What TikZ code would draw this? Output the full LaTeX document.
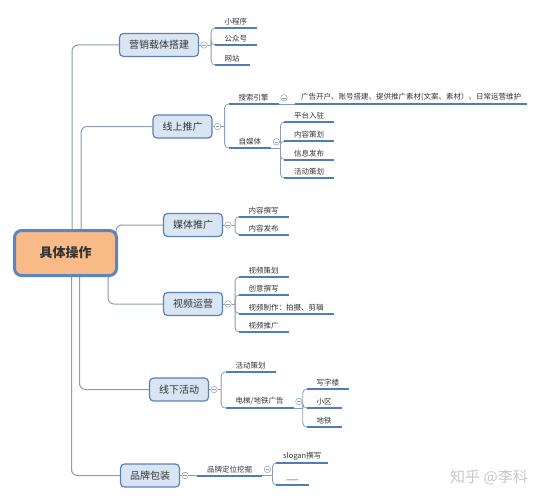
\documentclass[tikz,border=0pt]{standalone}
\usepackage{fontspec}
\setmainfont{Noto Sans CJK SC}
\usetikzlibrary{positioning,backgrounds}
\definecolor{linec}{HTML}{8C9CB3}
\definecolor{ulinec}{HTML}{4F7DB8}
\definecolor{topicfill}{HTML}{DAE5F3}
\definecolor{topicline}{HTML}{5B80B5}
\definecolor{rootfill}{HTML}{F8BA87}
\definecolor{rootline}{HTML}{5B86C0}
\definecolor{txtc}{HTML}{333333}

\begin{document}
\begin{tikzpicture}[x=1pt, y=-1pt,
  rootbox/.style={rectangle, rounded corners=7pt, draw=rootline, fill=rootfill,
    line width=3pt, minimum width=102pt, minimum height=45pt,
    font=\fontsize{13}{15}\selectfont\bfseries, text=txtc},
  topic/.style={rectangle, rounded corners=4pt, draw=topicline, fill=topicfill,
    line width=1.2pt, minimum height=23pt, inner xsep=9.5pt,
    font=\fontsize{10}{12}\selectfont, text=txtc},
  leaf/.style={anchor=south west, inner xsep=10pt, inner ysep=2.5pt,
    font=\fontsize{7.5}{9}\selectfont, text=txtc},
  fold/.style={circle, draw=linec, fill=white, line width=0.5pt,
    minimum size=6.5pt, inner sep=0pt,
    path picture={\draw[linec, line width=0.5pt]
      ([xshift=-1.8pt]path picture bounding box.center) --
      ([xshift=1.8pt]path picture bounding box.center);}},
  trunk/.style={draw=linec, line width=1pt, rounded corners=6pt},
  link/.style={draw=linec, line width=0.8pt, rounded corners=4pt},
  uline/.style={draw=ulinec, line width=2pt},
]
  \useasboundingbox (0,0) rectangle (545,500);

  % === ROOT ===
  \node[rootbox] (root) at (65.5,253) {具体操作};

  % === TOPICS ===
  \node[topic] (yx) at (159,45)      {营销载体搭建};
  \node[topic] (xs) at (182.5,126.5) {线上推广};
  \node[topic] (mt) at (193,225)     {媒体推广};
  \node[topic] (sp) at (193,304)     {视频运营};
  \node[topic] (xx) at (179,389.5)   {线下活动};
  \node[topic] (pp) at (150,475.5)   {品牌包装};

  \foreach \t in {yx,xs,mt,sp,xx,pp}
    \node[fold, right=1.5pt of \t] (\t-f) {};
  \foreach \t in {yx,xs,mt,sp,xx}
    \coordinate (\t-b) at ([xshift=3.5pt]\t-f.east);

  % === LEAVES ===
  % 营销载体搭建
  \node[leaf] (yx1) at (214.5,28) {小程序};
  \node[leaf] (yx2) at (214.5,45) {公众号};
  \node[leaf] (yx3) at (214.5,65) {网站};

  % 线上推广
  \node[leaf] (ss) at (228.5,104) {搜索引擎};
  \node[leaf, inner xsep=6pt] (ad) at (295,104)
    {广告开户、账号搭建、提供推广素材(文案、素材）、日常运营维护};
  \node[leaf] (zm) at (228.5,148) {自媒体};
  \node[fold, right=1.5pt of ss] (ss-f) {};
  \node[fold, right=1.5pt of zm] (zm-f) {};
  \coordinate (zm-b) at ([xshift=9pt]zm.south east);
  \node[leaf] (zm1) at (284,122)   {平台入驻};
  \node[leaf] (zm2) at (284,141)   {内容策划};
  \node[leaf] (zm3) at (284,159.5) {信息发布};
  \node[leaf] (zm4) at (284,178)   {活动策划};

  % 媒体推广
  \node[leaf] (mt1) at (238.5,216.5) {内容撰写};
  \node[leaf] (mt2) at (238.5,234.5) {内容发布};

  % 视频运营
  \node[leaf] (sp1) at (238.5,277)   {视频策划};
  \node[leaf] (sp2) at (238.5,295)   {创意撰写};
  \node[leaf] (sp3) at (238.5,313.5) {视频制作：拍摄、剪辑};
  \node[leaf] (sp4) at (238.5,332)   {视频推广};

  % 线下活动
  \node[leaf] (hd) at (225.5,372) {活动策划};
  \node[leaf] (dt) at (225.5,408) {电梯/地铁广告};
  \node[fold, right=1.5pt of dt] (dt-f) {};
  \coordinate (dt-b) at ([xshift=9pt]dt.south east);
  \node[leaf] (dt1) at (306.5,389) {写字楼};
  \node[leaf] (dt2) at (306.5,408) {小区};
  \node[leaf] (dt3) at (306.5,427) {地铁};

  % 品牌包装
  \node[leaf] (pw) at (197,475.5) {品牌定位挖掘};
  \node[fold, right=1.5pt of pw] (pw-f) {};
  \coordinate (pw-b) at ([xshift=10pt]pw.south east);
  \node[leaf, inner xsep=7pt] (pw1) at (276,463) {slogan撰写};
  \node[leaf] (pw2) at (276,485) {——};

  % === TRUNK (behind root) ===
  \begin{scope}[on background layer]
    \draw[trunk] ([xshift=6.5pt]root.center)  |- (yx.west);
    \draw[trunk] ([xshift=15.5pt]root.center) |- (xs.west);
    \draw[trunk] ([xshift=50.5pt]root.center) |- (mt.west);
    \draw[trunk] ([xshift=42.5pt]root.center) |- (sp.west);
    \draw[trunk] ([xshift=14pt]root.center)   |- (xx.west);
    \draw[trunk] ([xshift=6pt]root.center)    |- (pp.west);
  \end{scope}

  % === LINKS ===
  \foreach \t in {yx,xs,mt,sp,xx,pp}
    \draw[link] (\t.east) -- (\t-f.west);
  \foreach \t in {yx,xs,mt,sp,xx}
    \draw[link] (\t-f.east) -- (\t-b);

  \foreach \n in {yx1,yx2,yx3} \draw[link] (yx-b) |- (\n.south west);
  \foreach \n in {ss,zm} \draw[link] (xs-b) |- (\n.south west);
  \foreach \n in {mt1,mt2} \draw[link] (mt-b) |- (\n.south west);
  \foreach \n in {sp1,sp2,sp3,sp4} \draw[link] (sp-b) |- (\n.south west);
  \foreach \n in {hd,dt} \draw[link] (xx-b) |- (\n.south west);
  \draw[link] (pp-f.east) -- (pw.south west);

  \draw[link] (ss.south east) -- (ad.south west);
  \draw[link] (zm.south east) -- (zm-b);
  \foreach \n in {zm1,zm2,zm3,zm4} \draw[link] (zm-b) |- (\n.south west);
  \draw[link] (dt.south east) -- (dt-b);
  \foreach \n in {dt1,dt2,dt3} \draw[link] (dt-b) |- (\n.south west);
  \draw[link] (pw.south east) -- (pw-b);
  \foreach \n in {pw1,pw2} \draw[link] (pw-b) |- (\n.south west);

  % === UNDERLINES ===
  \foreach \n in {yx1,yx2,yx3,ss,ad,zm,zm1,zm2,zm3,zm4,mt1,mt2,
                  sp1,sp2,sp3,sp4,hd,dt,dt1,dt2,dt3,pw,pw1,pw2}
    \draw[uline] (\n.south west) -- (\n.south east);

  % watermark
  \node[font=\fontsize{15}{17}\selectfont, text=black!22] (wm) at (489,477) {知乎 @李科};

\end{tikzpicture}
\end{document}
